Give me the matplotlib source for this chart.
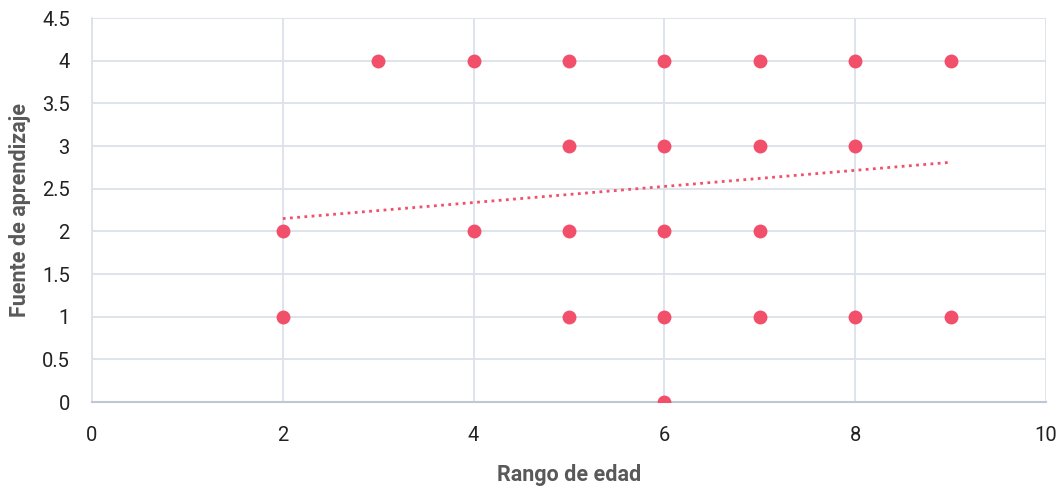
import matplotlib
matplotlib.use("Agg")
import matplotlib.pyplot as plt

# Datos
edad = [2, 2, 3, 4, 4, 5, 5, 5, 5, 6, 6, 6, 6, 6, 7, 7, 7, 7, 8, 8, 8, 9, 9]
fuente = [2, 1, 4, 4, 2, 4, 3, 2, 1, 4, 3, 2, 1, 0, 4, 3, 2, 1, 4, 3, 1, 4, 1]

# Línea de tendencia (extremos leídos)
tend_x = [2, 9]
tend_y = [2.15, 2.81]

x_ticks = [0, 2, 4, 6, 8, 10]
y_ticks = [0, 0.5, 1, 1.5, 2, 2.5, 3, 3.5, 4, 4.5]

rojo = "#F2506A"
gris_grid = "#DCE1EA"

plt.rcParams['font.family'] = ['Roboto', 'DejaVu Sans']

fig = plt.figure(figsize=(10.59, 4.88), dpi=100)
ax = fig.add_axes([0.0869, 0.176, 0.9008, 0.787])

ax.plot(tend_x, tend_y, linestyle=(0, (1, 1.6)), color=rojo, linewidth=2, zorder=2)
ax.scatter(edad, fuente, s=100, color=rojo, zorder=3, linewidths=0)

ax.set_xlim(0, 10)
ax.set_ylim(0, 4.5)
ax.set_xticks(x_ticks)
ax.set_yticks(y_ticks)
ax.set_xticklabels([str(v) for v in x_ticks])
ax.set_yticklabels([f"{v:g}" for v in y_ticks])
ax.tick_params(axis='both', length=0, labelsize=14.5, colors="#222222")
ax.tick_params(axis='x', pad=17)
ax.tick_params(axis='y', pad=16)

ax.grid(True, color=gris_grid, linewidth=1.3)
ax.set_axisbelow(True)
for s in ['top', 'right']:
    ax.spines[s].set_visible(False)
ax.spines['left'].set_color(gris_grid)
ax.spines['left'].set_linewidth(1.3)
ax.spines['bottom'].set_color("#BFC7D6")
ax.spines['bottom'].set_linewidth(1.5)

ax.set_xlabel("Rango de edad", fontsize=15.5, fontweight='bold', color="#595959", labelpad=14)
ax.set_ylabel("Fuente de aprendizaje", fontsize=15.5, fontweight='bold', color="#595959", labelpad=8)

fig.savefig("out.png", dpi=100)
